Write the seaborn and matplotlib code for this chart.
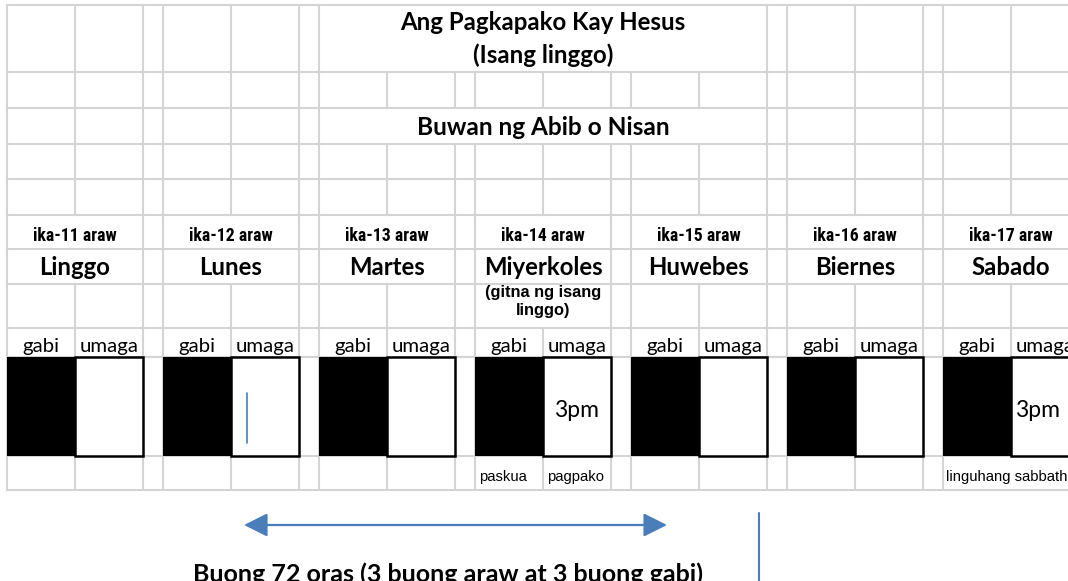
import numpy as np
import pandas as pd
import seaborn as sns
import matplotlib
matplotlib.use("Agg")
import matplotlib.pyplot as plt
from matplotlib import font_manager as fm
from matplotlib.patches import FancyArrowPatch

# ---------------- data ----------------
days = ["Linggo", "Lunes", "Martes", "Miyerkoles", "Huwebes", "Biernes", "Sabado"]
day_numbers = ["ika-11 araw", "ika-12 araw", "ika-13 araw", "ika-14 araw",
               "ika-15 araw", "ika-16 araw", "ika-17 araw"]
half_labels = ["gabi", "umaga"]
hour_marks = ["", "", "", "3pm", "", "", "3pm"]
night_notes = ["", "", "", "paskua", "", "", "linguhang sabbath"]
day_notes = ["", "", "", "pagpako", "", "", ""]
title_lines = ["Ang Pagkapako Kay Hesus", "(Isang linggo)"]
month_label = "Buwan ng Abib o Nisan"
midweek_note = ["(gitna ng isang", "linggo)"]
span_label = "Buong 72 oras (3 buong araw at 3 buong gabi)"

# ---------------- style ----------------
sns.set_theme(style="white")
avail = {f.name for f in fm.fontManager.ttflist}
def pick(cands, default="DejaVu Sans"):
    for c in cands:
        if c in avail:
            return c
    return default
MAIN = pick(["Lato", "Open Sans", "Noto Sans"])
NARROW = pick(["Liberation Sans Narrow", "DejaVu Sans Condensed", "Roboto Condensed", "Roboto"])
ARIAL = pick(["Liberation Sans", "Arial", "DejaVu Sans"])
plt.rcParams["font.family"] = [MAIN, "DejaVu Sans"]
plt.rcParams["text.color"] = "black"

GRID = "#d4d4d4"
BLUE = "#4a7ebb"

fig = plt.figure(figsize=(10.68, 5.81), dpi=100)
ax = fig.add_axes([0, 0, 1, 1])
ax.set_xlim(0, 1068)
ax.set_ylim(581, 0)
ax.axis("off")

# layout (pixels)
x_start, cell_w, gap = 7, 68, 20
period = 2 * cell_w + gap
day_x0 = [x_start + i * period for i in range(len(days))]
ys = [5, 72, 108, 144, 179, 215, 249, 284, 328, 357, 456, 490]
vx = []
for x0 in day_x0:
    vx += [x0, x0 + cell_w, x0 + 2 * cell_w]
title_span = (day_x0[2], day_x0[4] + 2 * cell_w)

def skip(r, x):
    if r in (0, 2) and title_span[0] < x < title_span[1]:
        return True
    if r in (5, 6) and any(x == x0 + cell_w for x0 in day_x0):
        return True
    if r == 7 and x == day_x0[3] + cell_w:
        return True
    if r == 10 and x == day_x0[6] + cell_w:
        return True
    return False

for r in range(len(ys) - 1):
    for x in vx:
        if not skip(r, x):
            ax.plot([x, x], [ys[r], ys[r + 1]], color=GRID, lw=1.5,
                    solid_capstyle="projecting", zorder=1)
for y in ys:
    ax.plot([x_start, 1068], [y, y], color=GRID, lw=1.5, zorder=1)

# night / day blocks
gabi_c = [x0 + cell_w / 2 for x0 in day_x0]
umaga_c = [x0 + 1.5 * cell_w for x0 in day_x0]
blk_top, blk_h = ys[9], ys[10] - ys[9]
ax.bar(umaga_c, blk_h, bottom=blk_top, width=cell_w, facecolor="white",
       edgecolor="black", lw=1.8, zorder=3)
ax.bar(gabi_c, blk_h, bottom=blk_top, width=cell_w, color="black", lw=0, zorder=4)

# ---------------- texts ----------------
fits = []
def txt(x, y, s, size, target=None, group=None, **kw):
    kw.setdefault("ha", "center")
    kw.setdefault("va", "baseline")
    kw.setdefault("color", "black")
    t = ax.text(x, y, s, fontsize=size, zorder=6, **kw)
    if target is not None:
        fits.append((t, target, group))
    elif group is not None:
        fits.append((t, None, group))
    return t

cx = (title_span[0] + title_span[1]) / 2
txt(cx, 30, title_lines[0], 13, 285, "title", fontweight="bold")
txt(cx, 63, title_lines[1], 13, None, "title", fontweight="bold")
txt(cx, 135, month_label, 13, 253, "month", fontweight="bold")

hour_offsets = [0, 0, 0, 11, 0, 0, 4]
for i, x0 in enumerate(day_x0):
    c = x0 + cell_w
    txt(c, 241, day_numbers[i], 10, 84 if i == 3 else None, "ika",
        family=[NARROW, "DejaVu Sans"], fontweight="bold")
    txt(c, 275, days[i], 14, 118 if i == 3 else None, "day", fontweight="bold")
    txt(gabi_c[i], 352, half_labels[0], 12, 37 if i == 0 else None, "half")
    txt(umaga_c[i], 352, half_labels[1], 12, None, "half")
    if hour_marks[i]:
        txt(x0 + cell_w + hour_offsets[i], 417, hour_marks[i], 14,
            45 if i == 3 else None, "hour", ha="left")
    if night_notes[i]:
        if i == 6:
            txt(x0 + 3, 481, night_notes[i], 8, 122, "sab", ha="left",
                family=[ARIAL, "DejaVu Sans"])
        else:
            txt(x0 + 4, 481, night_notes[i], 8, 48, "small", ha="left",
                family=[ARIAL, "DejaVu Sans"])
    if day_notes[i]:
        txt(x0 + cell_w + 4, 481, day_notes[i], 8, None, "small", ha="left",
            family=[ARIAL, "DejaVu Sans"])

c3 = day_x0[3] + cell_w
txt(c3, 297, midweek_note[0], 7, 116, "mid", fontweight="bold",
    family=[ARIAL, "DejaVu Sans"])
txt(c3, 315, midweek_note[1], 7, None, "mid", fontweight="bold",
    family=[ARIAL, "DejaVu Sans"])

txt(193, 582, span_label, 13, 507, "span", fontweight="bold", ha="left")

# fit text sizes to measured widths
for _ in range(2):
    fig.canvas.draw()
    rnd = fig.canvas.get_renderer()
    sizes = {}
    for t, target, group in fits:
        if target is not None:
            w = t.get_window_extent(rnd).width
            sizes[group] = t.get_fontsize() * target / w
    for t, target, group in fits:
        if group in sizes:
            t.set_fontsize(sizes[group])

# blue annotations
ax.add_patch(FancyArrowPatch((244, 525), (667, 525),
                             arrowstyle="<|-|>,head_length=7.2,head_width=3.6",
                             color=BLUE, lw=1.6, mutation_scale=2, zorder=5,
                             shrinkA=0, shrinkB=0))
ax.plot([759, 759], [513, 590], color=BLUE, lw=1.5, zorder=5)
ax.plot([247, 247], [393, 443], color=BLUE, lw=1.2, zorder=7)

fig.savefig("out.png", dpi=100)
